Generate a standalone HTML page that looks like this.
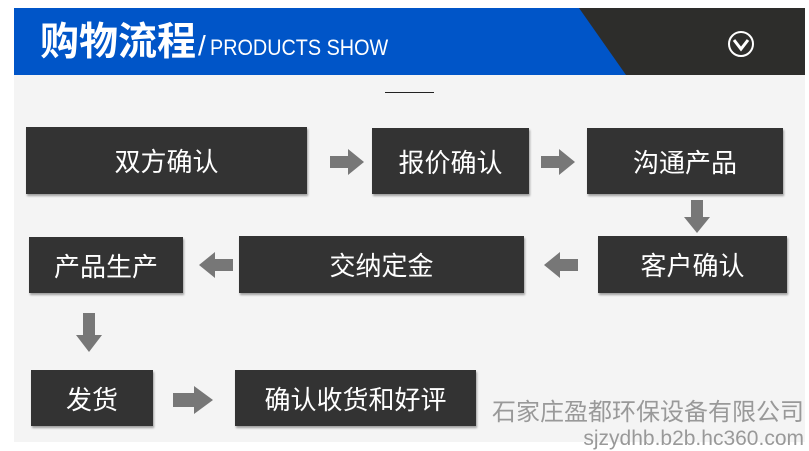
<!DOCTYPE html><html><head><meta charset="utf-8"><style>
body{margin:0;width:809px;height:447px;background:#fff;position:relative;overflow:hidden;font-family:"Liberation Sans","Noto Sans CJK SC",sans-serif}
.bg{position:absolute;left:14px;top:75px;width:791px;height:367px;background:#f4f4f4}
.b{position:absolute;background:#333;color:#fff;font-size:26px;display:flex;align-items:center;justify-content:center;box-shadow:1px 2px 2px rgba(0,0,0,.35)}
svg.a{position:absolute}
</style></head><body>
<div class="bg"></div>
<svg style="position:absolute;left:14px;top:8px" width="791" height="67">
<rect width="791" height="67" fill="#2d2d2b"/>
<polygon points="0,0 565,0 612,67 0,67" fill="#0055c8"/>
<circle cx="727" cy="36" r="12" fill="none" stroke="#fff" stroke-width="2"/>
<polyline points="720,32 727,41 734,32" fill="none" stroke="#fff" stroke-width="3"/>
</svg>
<div style="position:absolute;left:40px;top:19px;color:#fff;font-size:39px;font-weight:bold;line-height:48px;white-space:nowrap">购物流程<span style="font-size:28px;font-weight:normal;margin-left:2px">/</span><span style="display:inline-block;font-size:22px;font-weight:normal;transform:scaleX(.9);transform-origin:left;margin-left:4px">PRODUCTS SHOW</span></div>
<div style="position:absolute;left:385px;top:92px;width:49px;height:1px;background:#222"></div>
<div class="b" style="left:26px;top:127px;width:281px;height:67px">双方确认</div>
<div class="b" style="left:372px;top:128px;width:157px;height:66px">报价确认</div>
<div class="b" style="left:587px;top:128px;width:196px;height:66px">沟通产品</div>
<div class="b" style="left:598px;top:236px;width:189px;height:57px">客户确认</div>
<div class="b" style="left:239px;top:236px;width:285px;height:57px">交纳定金</div>
<div class="b" style="left:29px;top:237px;width:154px;height:56px">产品生产</div>
<div class="b" style="left:31px;top:370px;width:122px;height:56px">发货</div>
<div class="b" style="left:235px;top:370px;width:241px;height:56px">确认收货和好评</div>
<svg class="a" style="left:0;top:0" width="809" height="447" fill="#777">
<polygon points="330,156 348,156 348,149 364,162 348,175 348,168 330,168"/>
<polygon points="541,156 559,156 559,149 575,162 559,175 559,168 541,168"/>
<polygon points="691,200 703,200 703,217 710,217 697,233 684,217 691,217"/>
<polygon points="578,259 560,259 560,252 544,265 560,278 560,271 578,271"/>
<polygon points="233,259 215,259 215,252 199,265 215,278 215,271 233,271"/>
<polygon points="83,313 95,313 95,335 102,335 89,352 76,335 83,335"/>
<polygon points="173,393 194,393 194,386 213,400 194,414 194,407 173,407"/>
</svg>
<div style="position:absolute;right:5px;top:400px;color:#999;font-size:24px;text-align:right;line-height:25px;white-space:nowrap">石家庄盈都环保设备有限公司<br><span style="font-size:21px">sjzydhb.b2b.hc360.com</span></div>
</body></html>
